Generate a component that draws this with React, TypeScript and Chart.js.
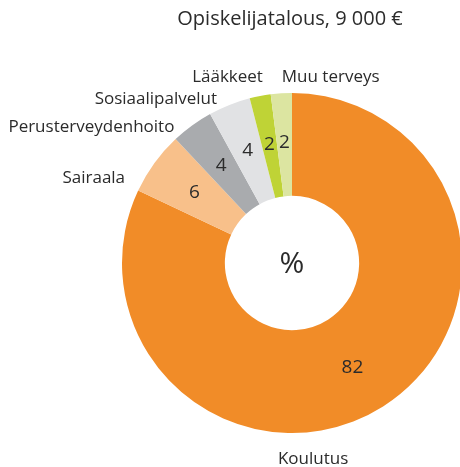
import React, { useEffect, useRef } from "react";
import { Chart, registerables } from "chart.js";

Chart.register(...registerables);

const categories = ["Koulutus", "Sairaala", "Perusterveydenhoito", "Sosiaalipalvelut", "Lääkkeet", "Muu terveys"];
const values = [82, 6, 4, 4, 2, 2];
const colors = ["#F18C28", "#F8C08A", "#A9ABAE", "#E1E2E4", "#BFD336", "#DCE5A1"];
const title = "Opiskelijatalous, 9 000 €";
const centerText = "%";

// label placement, in units of the outer radius relative to the chart centre
const labelPlacement = [
  { dx: 0.124, dy: 1.152, align: "center" },
  { dx: -0.982, dy: -0.5, align: "right" },
  { dx: -0.692, dy: -0.8, align: "right" },
  { dx: -0.441, dy: -0.965, align: "right" },
  { dx: -0.171, dy: -1.094, align: "right" },
  { dx: -0.06, dy: -1.094, align: "left" },
];

const FONT = "'Open Sans', 'Noto Sans', sans-serif";

const labelPlugin = {
  id: "labelPlugin",
  afterDatasetsDraw(chart: any) {
    const ctx = chart.ctx;
    const meta = chart.getDatasetMeta(0);
    ctx.save();
    const first = meta.data[0];
    const cx = first.x;
    const cy = first.y;
    const R = first.outerRadius;
    // values inside slices
    ctx.fillStyle = "#2b2b2b";
    ctx.font = `19px ${FONT}`;
    ctx.textAlign = "center";
    ctx.textBaseline = "middle";
    meta.data.forEach((arc: any, i: number) => {
      const mid = (arc.startAngle + arc.endAngle) / 2 + (i === 0 ? 0.04 : 0);
      const r = (arc.innerRadius + arc.outerRadius) / 2 + 2;
      ctx.fillText(String(values[i]), arc.x + Math.cos(mid) * r, arc.y + Math.sin(mid) * r);
    });
    // category labels outside
    ctx.font = `17px ${FONT}`;
    categories.forEach((c, i) => {
      const p = labelPlacement[i];
      ctx.textAlign = p.align as CanvasTextAlign;
      ctx.fillText(c, cx + p.dx * R, cy + p.dy * R);
    });
    // centre text
    ctx.font = `30px ${FONT}`;
    ctx.textAlign = "center";
    ctx.fillText(centerText, cx, cy + 1);
    // title
    ctx.font = `20px ${FONT}`;
    ctx.fillText(title, cx - 2, 19);
    ctx.restore();
  },
};

export default function App() {
  const ref = useRef<HTMLCanvasElement>(null);
  useEffect(() => {
    const chart = new Chart(ref.current!, {
      type: "doughnut",
      data: {
        labels: categories,
        datasets: [
          {
            data: values,
            backgroundColor: colors,
            borderWidth: 0,
          },
        ],
      },
      options: {
        animation: false,
        responsive: false,
        cutout: "39.5%",
        layout: { padding: { left: 122, right: 18, top: 93, bottom: 34 } },
        plugins: {
          legend: { display: false },
          tooltip: { enabled: false },
          title: { display: false },
        },
      },
      plugins: [labelPlugin],
    });
    return () => chart.destroy();
  }, []);
  return (
    <div
      style={{
        position: "fixed",
        left: 0,
        top: 0,
        width: 460,
        height: 467,
        overflow: "hidden",
        background: "#fff",
      }}
    >
      <canvas ref={ref} width={480} height={467} style={{ width: 480, height: 467, display: "block" }} />
    </div>
  );
}
